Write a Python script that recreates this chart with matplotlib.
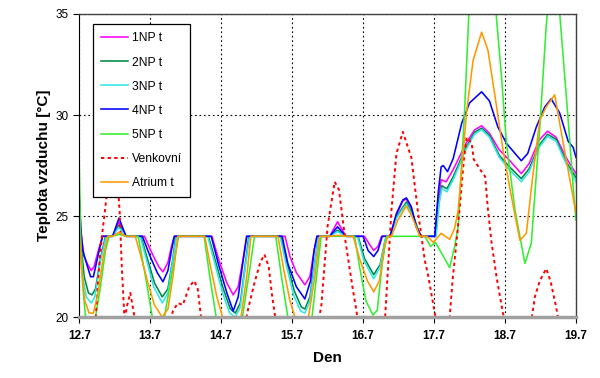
import matplotlib
matplotlib.use("Agg")
import matplotlib.pyplot as plt
import numpy as np

plt.rcParams['font.family'] = ['Liberation Sans', 'DejaVu Sans']

# (den, teplota)
np1 = [(12.70, 25.9), (12.73, 24.0), (12.77, 23.0), (12.82, 22.6), (12.87, 22.3), (12.91, 22.5), (12.97, 23.3), (13.03, 24.0),
       (13.17, 24.0), (13.26, 24.7), (13.36, 24.0),
       (13.62, 24.0), (13.72, 23.2), (13.82, 22.5), (13.88, 22.24), (13.95, 22.7), (14.00, 23.5), (14.04, 24.0),
       (14.57, 24.0), (14.67, 22.8), (14.78, 21.7), (14.87, 21.1), (14.94, 21.5), (15.01, 22.9), (15.06, 24.0),
       (15.60, 24.0), (15.67, 23.0), (15.76, 22.2), (15.88, 21.6), (15.95, 22.0), (16.01, 23.3), (16.05, 24.0),
       (16.23, 24.0), (16.34, 24.72), (16.46, 24.0),
       (16.72, 24.0), (16.79, 23.6), (16.85, 23.3), (16.91, 23.5), (16.96, 24.0),
       (17.08, 24.0), (17.17, 25.05), (17.26, 25.75), (17.31, 25.85), (17.38, 25.4), (17.45, 24.45), (17.52, 24.0),
       (17.71, 24.0), (17.76, 25.8), (17.80, 26.8), (17.87, 26.7), (17.97, 27.3), (18.15, 28.6), (18.27, 29.26),
       (18.37, 29.47), (18.48, 29.1), (18.62, 28.27), (18.76, 27.77), (18.93, 27.1), (19.04, 27.6), (19.18, 28.76),
       (19.30, 29.2), (19.42, 28.9), (19.56, 27.9), (19.70, 27.1)]

np2 = [(12.70, 25.5), (12.73, 23.5), (12.77, 22.0), (12.83, 21.2), (12.88, 21.1), (12.93, 21.4), (13.00, 22.9), (13.07, 24.0),
       (13.17, 24.0), (13.26, 24.55), (13.36, 24.0),
       (13.57, 24.0), (13.66, 22.9), (13.76, 21.7), (13.87, 21.0), (13.95, 21.4), (14.02, 22.9), (14.06, 24.0),
       (14.52, 24.0), (14.61, 22.9), (14.73, 21.4), (14.83, 20.4), (14.90, 20.2), (14.97, 20.7), (15.04, 22.6), (15.09, 24.0),
       (15.54, 24.0), (15.62, 22.8), (15.73, 21.3), (15.83, 20.5), (15.88, 20.4), (15.95, 21.0), (16.02, 22.7), (16.07, 24.0),
       (16.23, 24.0), (16.34, 24.3), (16.46, 24.0),
       (16.63, 24.0), (16.72, 22.9), (16.85, 22.1), (16.94, 22.6), (17.01, 23.8), (17.03, 24.0),
       (17.08, 24.0), (17.17, 24.95), (17.31, 25.7), (17.40, 25.1), (17.51, 24.0),
       (17.72, 24.0), (17.77, 25.7), (17.81, 26.5), (17.88, 26.35), (17.97, 26.95), (18.15, 28.4), (18.27, 29.15),
       (18.37, 29.35), (18.48, 29.0), (18.62, 28.0), (18.76, 27.45), (18.93, 26.85), (19.04, 27.35), (19.18, 28.5),
       (19.30, 29.05), (19.42, 28.8), (19.56, 27.7), (19.70, 26.9)]

np3 = [(12.70, 25.3), (12.72, 23.5), (12.75, 22.0), (12.80, 21.0), (12.87, 20.7), (12.92, 21.0), (13.00, 22.8), (13.08, 24.0),
       (13.17, 24.0), (13.26, 24.45), (13.36, 24.0),
       (13.56, 24.0), (13.65, 22.8), (13.75, 21.5), (13.87, 20.7), (13.95, 21.2), (14.02, 22.8), (14.07, 24.0),
       (14.51, 24.0), (14.60, 22.8), (14.72, 21.2), (14.82, 20.2), (14.90, 20.0), (14.97, 20.5), (15.04, 22.5), (15.10, 24.0),
       (15.53, 24.0), (15.61, 22.7), (15.72, 21.1), (15.82, 20.3), (15.88, 20.2), (15.95, 20.8), (16.02, 22.6), (16.07, 24.0),
       (16.23, 24.0), (16.34, 24.23), (16.46, 24.0),
       (16.62, 24.0), (16.71, 22.8), (16.85, 21.9), (16.94, 22.5), (17.01, 23.8), (17.03, 24.0),
       (17.08, 24.0), (17.17, 24.9), (17.31, 25.6), (17.40, 25.0), (17.50, 24.0),
       (17.73, 24.0), (17.77, 25.6), (17.81, 26.37), (17.88, 26.2), (17.97, 26.8), (18.15, 28.3), (18.27, 29.05),
       (18.37, 29.28), (18.48, 28.9), (18.62, 27.9), (18.76, 27.3), (18.93, 26.7), (19.04, 27.2), (19.18, 28.4),
       (19.30, 28.95), (19.42, 28.7), (19.56, 27.6), (19.70, 26.7)]

np4 = [(12.70, 26.1), (12.72, 24.5), (12.75, 23.3), (12.80, 22.7), (12.86, 22.0), (12.90, 22.0), (12.95, 22.8), (13.00, 23.6), (13.03, 24.0),
       (13.17, 24.0), (13.26, 24.9), (13.36, 24.0),
       (13.59, 24.0), (13.70, 23.0), (13.80, 22.2), (13.88, 21.75), (13.95, 22.3), (14.00, 23.3), (14.04, 24.0),
       (14.56, 24.0), (14.66, 22.65), (14.78, 21.2), (14.87, 20.3), (14.94, 21.0), (15.01, 22.8), (15.06, 24.0),
       (15.56, 24.0), (15.64, 22.65), (15.76, 21.5), (15.88, 20.9), (15.96, 21.8), (16.01, 23.3), (16.05, 24.0),
       (16.23, 24.0), (16.34, 24.47), (16.46, 24.0),
       (16.70, 24.0), (16.77, 23.3), (16.85, 23.0), (16.91, 23.3), (16.97, 24.0),
       (17.08, 24.0), (17.17, 25.13), (17.26, 25.8), (17.31, 25.9), (17.38, 25.46), (17.45, 24.47), (17.52, 24.0),
       (17.71, 24.0), (17.76, 26.2), (17.80, 27.44), (17.83, 27.5), (17.89, 27.2), (17.97, 27.85), (18.09, 29.6),
       (18.20, 30.6), (18.37, 31.15), (18.48, 30.7), (18.60, 29.4), (18.72, 28.6), (18.84, 28.1), (18.93, 27.74),
       (19.02, 28.1), (19.14, 29.4), (19.26, 30.4), (19.35, 30.8), (19.47, 30.1), (19.59, 28.7), (19.66, 28.4), (19.70, 27.9)]

np5 = [(12.70, 27.6), (12.72, 24.0), (12.75, 21.5), (12.79, 20.0), (12.93, 20.0), (13.00, 21.5), (13.07, 23.3), (13.12, 24.0),
       (13.17, 24.0), (13.26, 24.1), (13.36, 24.0),
       (13.53, 24.0), (13.62, 22.3), (13.73, 20.0), (13.90, 20.0), (14.00, 22.0), (14.10, 24.0),
       (14.46, 24.0), (14.54, 22.0), (14.63, 20.0), (15.00, 20.0), (15.10, 22.3), (15.17, 24.0),
       (15.47, 24.0), (15.55, 22.0), (15.64, 20.0), (15.98, 20.0), (16.05, 22.2), (16.11, 24.0),
       (16.58, 24.0), (16.65, 22.5), (16.74, 20.8), (16.84, 20.1), (16.90, 20.35), (16.97, 22.65), (17.03, 24.0),
       (17.57, 24.0), (17.65, 23.5), (17.72, 23.7), (17.80, 23.2), (17.92, 22.45), (17.99, 23.5), (18.04, 24.5),
       (18.13, 30.2), (18.20, 35.8), (18.38, 39.5), (18.56, 35.6), (18.65, 31.9), (18.72, 28.6), (18.84, 25.3),
       (18.98, 22.66), (19.07, 23.66), (19.19, 29.4), (19.28, 34.4), (19.31, 35.5), (19.39, 37.5), (19.46, 35.5),
       (19.58, 30.2), (19.67, 26.0), (19.70, 24.8)]

venkovni = [(12.70, 19.0), (12.93, 19.8), (12.98, 22.5), (13.02, 24.0), (13.07, 25.5), (13.12, 27.0), (13.19, 27.8),
            (13.24, 26.8), (13.27, 25.2), (13.30, 22.5), (13.34, 19.8), (13.37, 20.5), (13.42, 21.2), (13.46, 20.4),
            (13.50, 19.5), (13.60, 18.5), (13.90, 18.5), (14.02, 20.3), (14.09, 20.7), (14.16, 20.6), (14.25, 21.5),
            (14.32, 21.8), (14.37, 21.4), (14.42, 19.9), (14.60, 18.5), (15.00, 19.0), (15.08, 20.4), (15.17, 21.7),
            (15.25, 22.7), (15.31, 23.1), (15.37, 22.5), (15.42, 21.0), (15.47, 19.8), (15.70, 18.5), (16.05, 19.5),
            (16.11, 20.5), (16.20, 24.5), (16.30, 26.7), (16.36, 26.3), (16.45, 23.8), (16.55, 21.5), (16.63, 19.8),
            (16.80, 18.5), (17.01, 20.0), (17.10, 25.3), (17.17, 28.1), (17.26, 29.17), (17.38, 27.9), (17.47, 25.3),
            (17.57, 22.8), (17.62, 22.0), (17.73, 19.8), (17.85, 19.0), (17.92, 20.0), (17.96, 21.8), (18.03, 24.2),
            (18.12, 27.8), (18.16, 28.9), (18.23, 28.6), (18.26, 27.8), (18.35, 27.3), (18.42, 26.95), (18.46, 25.3),
            (18.51, 23.7), (18.58, 22.0), (18.67, 20.2), (18.80, 18.5), (19.07, 19.8), (19.12, 21.0), (19.19, 21.8),
            (19.28, 22.4), (19.34, 21.8), (19.42, 20.5), (19.47, 19.5), (19.70, 18.5)]

atrium = [(12.70, 24.5), (12.73, 22.5), (12.78, 20.8), (12.84, 20.2), (12.90, 20.2), (12.97, 21.3), (13.04, 23.0), (13.10, 24.0),
          (13.17, 24.0), (13.26, 24.2), (13.36, 24.0),
          (13.49, 24.0), (13.57, 23.0), (13.66, 21.8), (13.76, 20.6), (13.87, 20.0), (13.95, 20.4), (14.02, 22.0), (14.09, 24.0),
          (14.47, 24.0), (14.55, 22.5), (14.64, 21.0), (14.72, 20.0), (14.98, 20.0), (15.06, 22.0), (15.12, 24.0),
          (15.50, 24.0), (15.58, 22.4), (15.67, 20.8), (15.74, 20.0), (15.93, 20.0), (16.02, 22.0), (16.09, 24.0),
          (16.23, 24.0), (16.34, 24.05), (16.46, 24.0),
          (16.56, 24.0), (16.65, 22.9), (16.76, 21.8), (16.85, 21.25), (16.93, 21.8), (17.00, 23.5), (17.05, 24.0),
          (17.10, 24.0), (17.19, 24.8), (17.31, 25.5), (17.40, 24.9), (17.50, 24.0),
          (17.60, 24.0), (17.69, 23.7), (17.80, 24.15), (17.92, 23.85), (17.99, 24.4), (18.04, 25.3), (18.16, 30.2),
          (18.25, 32.7), (18.37, 34.1), (18.46, 33.2), (18.56, 30.9), (18.67, 28.3), (18.79, 25.96), (18.91, 23.8),
          (19.00, 24.15), (19.09, 26.95), (19.19, 29.75), (19.28, 30.4), (19.40, 31.0), (19.52, 28.6), (19.70, 25.15)]

labels = ['1NP t', '2NP t', '3NP t', '4NP t', '5NP t', 'Venkovní', 'Atrium t']
colors = ['#ff00ff', '#008844', '#33e6e6', '#0000ff', '#33ee33', '#ff0000', '#ff9900']
series = [np1, np2, np3, np4, np5, venkovni, atrium]
xticks = [12.7, 13.7, 14.7, 15.7, 16.7, 17.7, 18.7, 19.7]

fig = plt.figure(figsize=(6, 3.78), dpi=100)
ax = fig.add_axes([0.132, 0.161, 0.828, 0.802])

for data, lab, col in zip(series, labels, colors):
    t, v = zip(*data)
    if lab == 'Venkovní':
        ax.plot(t, v, color=col, lw=1.4, linestyle=(0, (1.7, 1.7)), label=lab)
    else:
        ax.plot(t, v, color=col, lw=1.15, label=lab)

ax.set_xlim(12.7, 19.7)
ax.set_ylim(20, 35)
ax.set_xticks(xticks)
ax.set_xticklabels([str(x) for x in xticks], fontweight='bold', fontsize=8.5)
ax.set_yticks([20, 25, 30, 35])
ax.tick_params(axis='y', labelsize=8.5, length=4, direction='out')
ax.tick_params(axis='x', length=4, direction='out', pad=5)

ax.grid(True, color='black', linestyle=(0, (1.5, 2.5)), lw=0.8)
for s in ['top', 'right']:
    ax.spines[s].set_color('#404040')
    ax.spines[s].set_linewidth(1.0)
ax.spines['left'].set_color('black')
ax.spines['bottom'].set_color('#a0a0a0')
ax.spines['bottom'].set_linewidth(2.5)

ax.set_xlabel('Den', fontweight='bold', fontsize=11, labelpad=7)
ax.set_ylabel('Teplota vzduchu [°C]', fontweight='bold', fontsize=11, labelpad=3)

leg = ax.legend(loc='upper left', bbox_to_anchor=(93 / 600, 1 - 24 / 378), bbox_transform=fig.transFigure,
                borderaxespad=0, fontsize=8.7, handlelength=2.2, labelspacing=1.0, handletextpad=0.3,
                fancybox=False, edgecolor='black', framealpha=1, borderpad=0.7)
leg.get_frame().set_linewidth(0.9)

fig.savefig('out.png', dpi=100)
